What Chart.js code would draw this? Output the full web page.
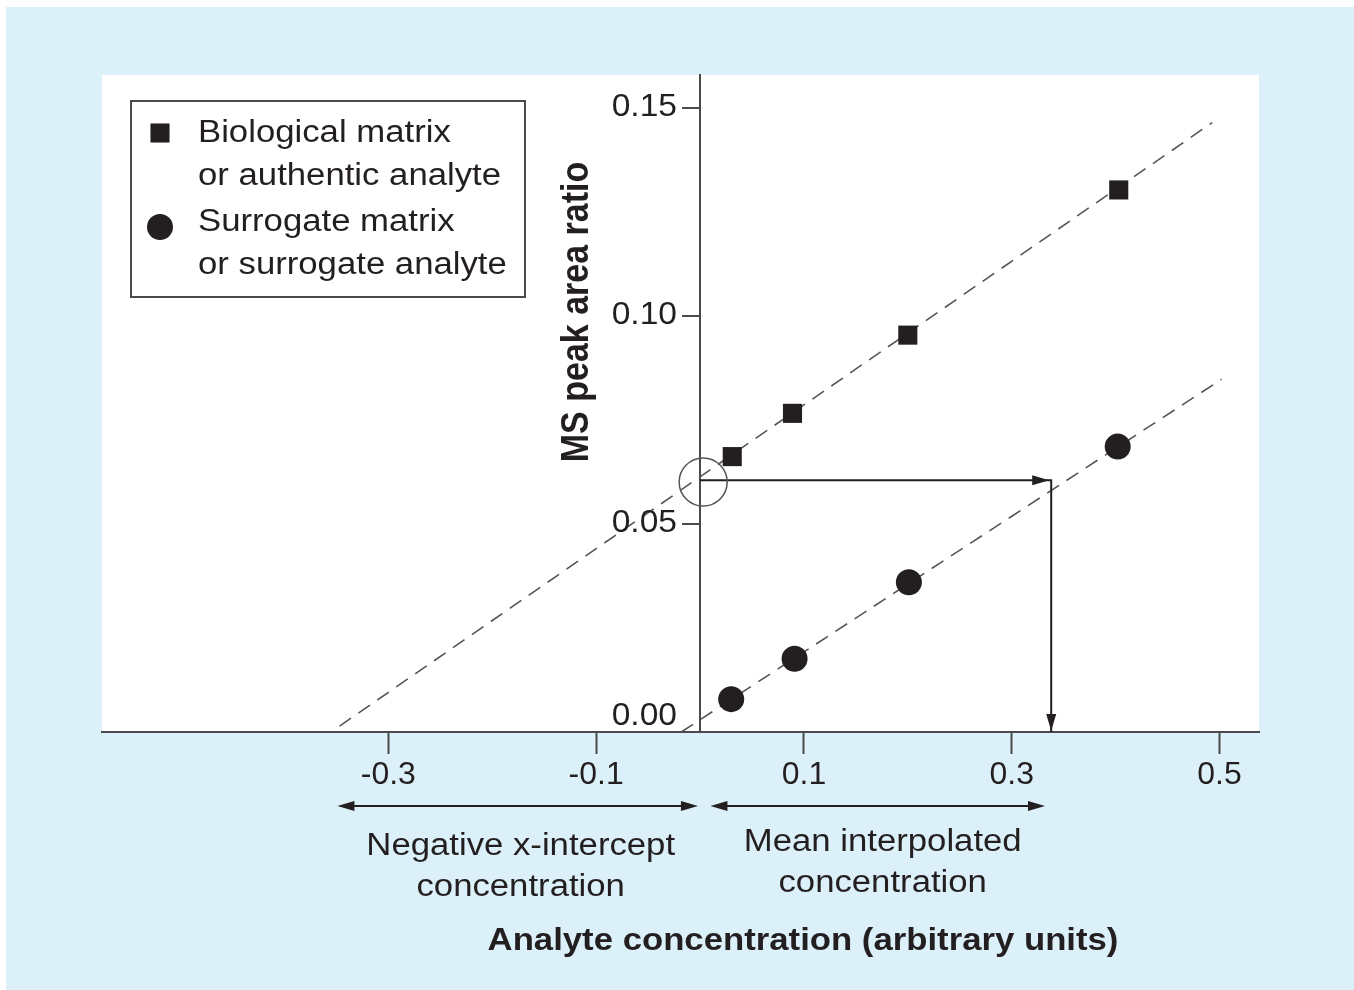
<!DOCTYPE html>
<html>
<head>
<meta charset="utf-8">
<script src="https://cdn.jsdelivr.net/npm/chart.js@4.4.1/dist/chart.umd.min.js"></script>
<style>
  html, body { margin: 0; padding: 0; background: #ffffff; }
  canvas { display: block; }
</style>
</head>
<body>
<canvas id="myChartCalibration" width="1354" height="990"></canvas>
<script>
// values
const bioConc = [0.031, 0.089, 0.200, 0.403];
const bioRatio = [0.0662, 0.0766, 0.0954, 0.1303];
const surConc = [0.030, 0.091, 0.201, 0.402];
const surRatio = [0.0079, 0.0176, 0.0360, 0.0686];

// dashed fit lines (end points)
const bioFitX = [-0.347, 0.493];
const bioFitY = [0.0014, 0.1465];
const surFitX = [-0.018, 0.502];
const surFitY = [0.0, 0.0848];

// y-intercept of the biological line and the concentration it maps to
const interceptY = 0.0605;
const interpolatedX = 0.338;

// ranges shown by the arrows under the x axis
const negativeRange = [-0.349, -0.002];
const interpolatedRange = [0.010, 0.332];

const ticksX = [-0.3, -0.1, 0.1, 0.3, 0.5];
const ticksY = [0, 0.05, 0.10, 0.15];

const legendLabels = [
    ['Biological matrix', 'or authentic analyte'],
    ['Surrogate matrix', 'or surrogate analyte']
];
const negativeLabel = ['Negative x-intercept', 'concentration'];
const interpolatedLabel = ['Mean interpolated', 'concentration'];
const xTitle = 'Analyte concentration (arbitrary units)';
const yTitle = 'MS peak area ratio';

const ink = '#231f20';
const axisGray = '#4a4a4a';
const family = '"Liberation Sans", Arial, Helvetica, sans-serif';

const pts = (xs, ys) => xs.map((x, i) => ({ x: x, y: ys[i] }));

// text in the figure is a little wider than the font, so stretch it
const drawText = (ctx, text, x, y, font, align, stretch) => {
    ctx.save();
    ctx.translate(x, y);
    ctx.scale(stretch, 1);
    ctx.font = font;
    ctx.textAlign = align;
    ctx.textBaseline = 'middle';
    ctx.fillStyle = ink;
    ctx.fillText(text, 0, 0);
    ctx.restore();
};

const arrowHead = (ctx, x, y, angle) => {
    ctx.save();
    ctx.translate(x, y);
    ctx.rotate(angle);
    ctx.beginPath();
    ctx.moveTo(0, 0);
    ctx.lineTo(-17, -5);
    ctx.lineTo(-17, 5);
    ctx.closePath();
    ctx.fillStyle = ink;
    ctx.fill();
    ctx.restore();
};

const background = {
    id: 'background',
    beforeDraw(chart) {
        const { ctx, chartArea } = chart;
        ctx.save();
        ctx.fillStyle = '#dcf0f9';
        ctx.fillRect(6, 7, chart.width - 6, chart.height - 7);
        ctx.fillStyle = '#ffffff';
        ctx.fillRect(chartArea.left, chartArea.top, chartArea.right - chartArea.left, chartArea.bottom - chartArea.top);
        ctx.restore();
    }
};

const annotations = {
    id: 'annotations',
    afterDraw(chart) {
        const { ctx } = chart;
        const sx = chart.scales.x;
        const sy = chart.scales.y;
        const regular = '31px ' + family;
        const bold = 'bold 31px ' + family;

        // y ticks sit left of the axis drawn at x = 0
        const axisX = sx.getPixelForValue(0);
        sy.ticks.forEach(t => {
            const py = sy.getPixelForValue(t.value);
            if (t.value !== 0) {
                ctx.save();
                ctx.strokeStyle = axisGray;
                ctx.lineWidth = 2;
                ctx.beginPath();
                ctx.moveTo(axisX - 18, py);
                ctx.lineTo(axisX, py);
                ctx.stroke();
                ctx.restore();
            }
            // the 0.00 label is lifted above the x axis
            drawText(ctx, t.value.toFixed(2), axisX - 23, t.value === 0 ? py - 16 : py - 1, '32px ' + family, 'right', 1.05);
        });

        // arrow heads of the interpolation path
        const ax = sx.getPixelForValue(interpolatedX);
        arrowHead(ctx, ax - 2, sy.getPixelForValue(interceptY), 0);
        arrowHead(ctx, ax, sy.getPixelForValue(0) - 1, Math.PI / 2);

        // double arrows under the axis
        const arrowY = 806;
        [negativeRange, interpolatedRange].forEach(r => {
            const x1 = sx.getPixelForValue(r[0]);
            const x2 = sx.getPixelForValue(r[1]);
            ctx.save();
            ctx.strokeStyle = ink;
            ctx.lineWidth = 2;
            ctx.beginPath();
            ctx.moveTo(x1 + 10, arrowY);
            ctx.lineTo(x2 - 10, arrowY);
            ctx.stroke();
            ctx.restore();
            arrowHead(ctx, x1, arrowY, Math.PI);
            arrowHead(ctx, x2, arrowY, 0);
        });

        const negMid = sx.getPixelForValue((negativeRange[0] + negativeRange[1]) / 2) + 3;
        drawText(ctx, negativeLabel[0], negMid, 846, regular, 'center', 1.12);
        drawText(ctx, negativeLabel[1], negMid, 887, regular, 'center', 1.12);
        const intMid = sx.getPixelForValue((interpolatedRange[0] + interpolatedRange[1]) / 2) + 5;
        drawText(ctx, interpolatedLabel[0], intMid, 842, regular, 'center', 1.12);
        drawText(ctx, interpolatedLabel[1], intMid, 883, regular, 'center', 1.12);

        // axis titles
        drawText(ctx, xTitle, 803, 941, bold, 'center', 1.12);
        ctx.save();
        ctx.translate(577, 312);
        ctx.rotate(-Math.PI / 2);
        ctx.scale(1, 1.12);
        ctx.font = 'bold 34px ' + family;
        ctx.textAlign = 'center';
        ctx.textBaseline = 'middle';
        ctx.fillStyle = ink;
        ctx.fillText(yTitle, 0, 0);
        ctx.restore();

        // legend
        ctx.save();
        ctx.strokeStyle = axisGray;
        ctx.lineWidth = 2;
        ctx.strokeRect(131, 101, 394, 196);
        ctx.fillStyle = ink;
        Chart.helpers.drawPoint(ctx, { pointStyle: 'rect', radius: 13.5, rotation: 0, borderWidth: 0 }, 160, 133);
        Chart.helpers.drawPoint(ctx, { pointStyle: 'circle', radius: 13, rotation: 0, borderWidth: 0 }, 160, 227);
        ctx.restore();
        drawText(ctx, legendLabels[0][0], 198, 133, regular, 'left', 1.12);
        drawText(ctx, legendLabels[0][1], 198, 176, regular, 'left', 1.12);
        drawText(ctx, legendLabels[1][0], 198, 222, regular, 'left', 1.12);
        drawText(ctx, legendLabels[1][1], 198, 265, regular, 'left', 1.12);
    }
};

const ctxCalibration = document.getElementById("myChartCalibration");

new Chart(ctxCalibration, {
    type: 'scatter',
    data: {
        datasets: [{
            label: 'Biological matrix or authentic analyte',
            data: pts(bioConc, bioRatio),
            pointStyle: 'rect',
            pointRadius: 13.5,
            backgroundColor: ink,
            borderWidth: 0
        }, {
            label: 'Surrogate matrix or surrogate analyte',
            data: pts(surConc, surRatio),
            pointStyle: 'circle',
            pointRadius: 13,
            backgroundColor: ink,
            borderWidth: 0
        }, {
            label: 'Intercept',
            data: [{ x: 0.003, y: interceptY - 0.0004 }],
            pointStyle: 'circle',
            pointRadius: 24,
            backgroundColor: 'rgba(0,0,0,0)',
            borderColor: '#555555',
            borderWidth: 1.5
        }, {
            label: 'Interpolation',
            data: [{ x: 0, y: interceptY }, { x: interpolatedX, y: interceptY }, { x: interpolatedX, y: 0 }],
            showLine: true,
            pointRadius: 0,
            borderColor: ink,
            borderWidth: 2
        }, {
            label: 'Biological fit',
            data: pts(bioFitX, bioFitY),
            showLine: true,
            pointRadius: 0,
            borderColor: '#555555',
            borderWidth: 1.6,
            borderDash: [14, 9]
        }, {
            label: 'Surrogate fit',
            data: pts(surFitX, surFitY),
            showLine: true,
            pointRadius: 0,
            borderColor: '#555555',
            borderWidth: 1.6,
            borderDash: [14, 9]
        }]
    },
    options: {
        responsive: false,
        animation: false,
        events: [],
        layout: {
            padding: { left: 102, top: 75, right: 95, bottom: 258 }
        },
        scales: {
            x: {
                type: 'linear',
                axis: 'x',
                position: { y: 0 },
                min: -0.5756,
                max: 0.538,
                afterBuildTicks: (scale) => {
                    scale.ticks = ticksX.map(v => ({ value: v }));
                },
                grid: {
                    display: true,
                    drawOnChartArea: false,
                    drawTicks: true,
                    tickLength: 21,
                    tickWidth: 2,
                    color: axisGray
                },
                border: { display: true, color: axisGray, width: 2 },
                ticks: {
                    color: ink,
                    padding: 3,
                    font: { family: family, size: 32 },
                    callback: (v) => v.toString()
                }
            },
            y: {
                type: 'linear',
                axis: 'y',
                position: { x: 0 },
                min: 0,
                max: 0.15793,
                afterBuildTicks: (scale) => {
                    scale.ticks = ticksY.map(v => ({ value: v }));
                },
                grid: { display: false },
                border: { display: true, color: axisGray, width: 2 },
                // labels and tick marks are drawn by the annotations plugin
                ticks: { display: false }
            }
        },
        plugins: {
            legend: { display: false },
            tooltip: { enabled: false }
        }
    },
    plugins: [background, annotations]
});
</script>
</body>
</html>
